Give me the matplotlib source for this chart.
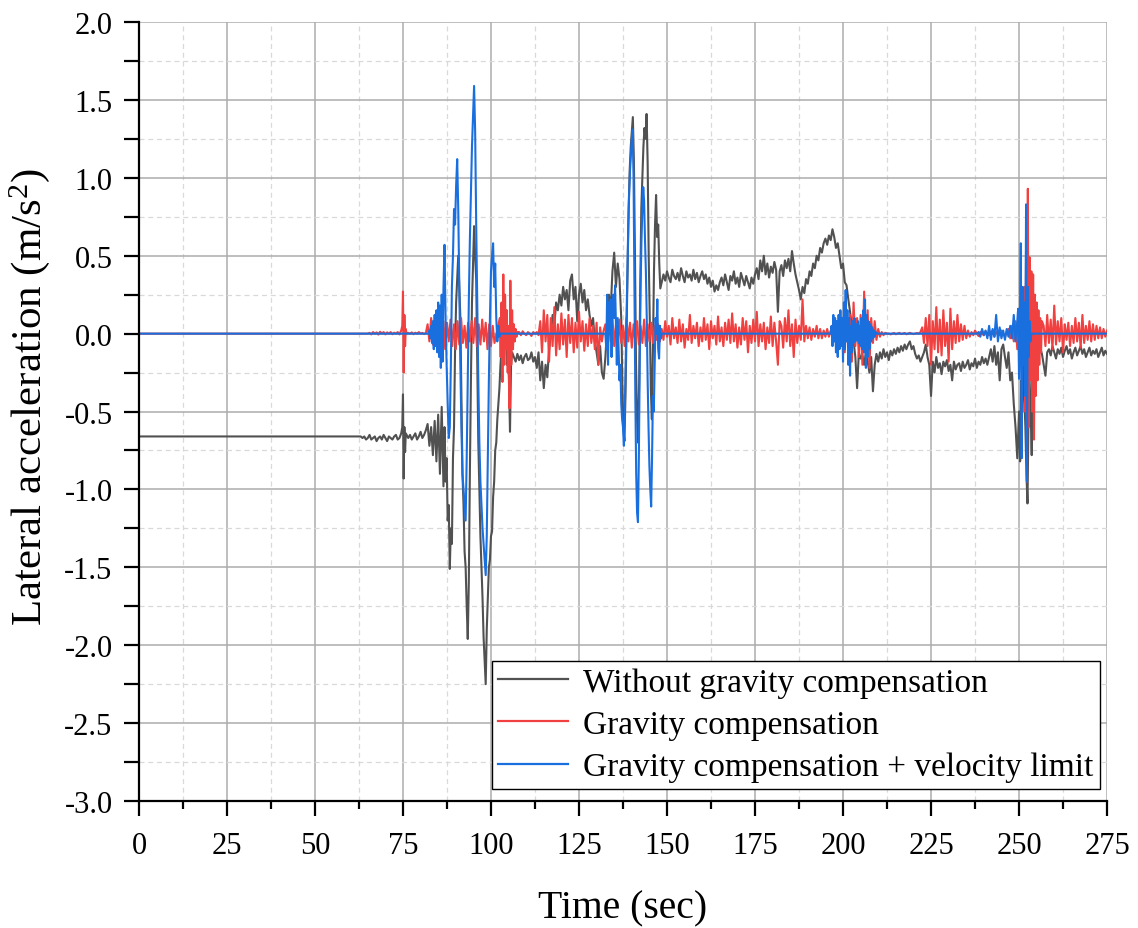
import numpy as np
import matplotlib
matplotlib.use("Agg")
import matplotlib.pyplot as plt
from matplotlib.ticker import MultipleLocator

plt.rcParams['font.family'] = ['Liberation Serif', 'DejaVu Serif']
plt.rcParams['mathtext.fontset'] = 'custom'
plt.rcParams['mathtext.rm'] = 'Liberation Serif'
plt.rcParams['mathtext.it'] = 'Liberation Serif:italic'

# ---------------- data (time in s, acceleration in m/s^2) ----------------
# each segment: (start time, time step)
gray_segments = [
    (0.0, 63.0, [-0.66, -0.66]),
    (63.5, 0.5, [-0.67, -0.66, -0.68, -0.67, -0.65, -0.68, -0.67, -0.66, -0.69, -0.67, -0.66, -0.68,
                 -0.65, -0.67, -0.69, -0.66, -0.67, -0.68, -0.66, -0.65, -0.68, -0.67, -0.64]),
    (74.8, 0.2, [-0.60, -0.39, -0.93, -0.60, -0.76, -0.64]),
    (76.5, 0.5, [-0.67, -0.65, -0.68, -0.66, -0.64, -0.68, -0.66, -0.63, -0.67, -0.65, -0.62]),
    (82.0, 0.5, [-0.58, -0.72, -0.60, -0.78, -0.56, -0.82, -0.52, -0.90, -0.47, -0.98]),
    (86.8, 0.3, [-0.60, -0.95, -0.80, -1.20, -1.10, -1.51, -1.25, -1.35, -0.80, -0.60, -0.10, 0.20,
                 0.35, 0.50, 0.30, 0.10, -0.40, -0.90, -1.10, -1.40, -1.50, -1.75, -1.96, -1.60,
                 -0.90, -0.30, 0.20, 0.45, 0.69, 0.50, 0.35, -0.20, -0.70, -1.00, -1.30, -1.50,
                 -1.70, -1.95, -2.10, -2.25, -1.90, -1.70, -1.50, -1.45, -1.30, -1.27, -1.05, -0.95,
                 -0.75, -0.70, -0.55, -0.45, -0.35, -0.20, -0.10, 0.00, -0.10, -0.05, 0.02, -0.20,
                 -0.10, -0.30, -0.63, -0.20, -0.12]),
    (106.5, 0.5, [-0.15, -0.18, -0.13, -0.17, -0.14, -0.19, -0.15, -0.13, -0.17, -0.16, -0.12, -0.18, -0.15]),
    (113.0, 0.5, [-0.22, -0.12, -0.30, -0.18, -0.35, -0.20, -0.28, -0.10]),
    (117.0, 0.5, [0.00, 0.12, 0.05, 0.20, 0.15, 0.25]),
    (120.0, 0.5, [0.18, 0.30, 0.22, 0.28, 0.15, 0.34, 0.38, 0.22, 0.30, 0.08, 0.25, 0.32, 0.20, 0.28,
                  0.15, 0.22, 0.12]),
    (128.5, 0.5, [0.05, 0.10, -0.05, -0.12, -0.20, -0.08, -0.25, -0.29, -0.15]),
    (133.0, 0.5, [0.05, 0.25, 0.15, 0.40, 0.52, 0.30, 0.45, 0.35, 0.10]),
    (137.3, 0.3, [-0.30, -0.60, -0.69, -0.40, 0.00, 0.40, 0.80, 1.05, 1.20, 1.30, 1.39, 1.10, 0.50,
                  -0.20, -0.55, -0.70, -0.30, 0.30, 0.80, 1.00, 1.20, 1.32, 1.25, 1.41, 1.10, 0.50,
                  0.10, -0.35, -0.55, -0.10, 0.40, 0.70, 0.89, 0.62, 0.70, 0.45, 0.29]),
    (148.5, 0.5, [0.33, 0.38, 0.34, 0.40, 0.36, 0.33, 0.41, 0.37, 0.35, 0.39, 0.34, 0.42, 0.37, 0.33,
                  0.40, 0.36, 0.38, 0.34, 0.41, 0.35, 0.39, 0.33, 0.37, 0.40, 0.35, 0.38, 0.32, 0.36,
                  0.30, 0.34, 0.27, 0.31, 0.28, 0.33]),
    (165.5, 0.5, [0.36, 0.31, 0.38, 0.33, 0.28, 0.37, 0.34, 0.40, 0.32, 0.36, 0.30, 0.39, 0.35, 0.31,
                  0.37, 0.33, 0.29, 0.36, 0.32, 0.38]),
    (175.5, 0.5, [0.42, 0.35, 0.47, 0.40, 0.50, 0.38, 0.45, 0.36, 0.43, 0.39, 0.46, 0.41, 0.14, 0.40,
                  0.44, 0.37, 0.47, 0.42, 0.48, 0.40, 0.53, 0.45]),
    (186.5, 0.5, [0.38, 0.33, 0.28, 0.22, 0.30, 0.26, 0.35, 0.32]),
    (190.5, 0.5, [0.40, 0.37, 0.45, 0.42, 0.50, 0.47, 0.55, 0.52, 0.58, 0.61, 0.57, 0.63, 0.60, 0.67, 0.62]),
    (198.0, 0.5, [0.55, 0.58, 0.50, 0.42, 0.45, 0.33, 0.31, 0.22, 0.14, 0.05, -0.05, -0.15, -0.35,
                  -0.12, -0.16]),
    (205.5, 0.5, [-0.14, -0.20, -0.12, -0.18, -0.25, -0.15, -0.37, -0.20, -0.13, -0.18, -0.12, -0.16,
                  -0.10, -0.15, -0.12, -0.17, -0.11, -0.14, -0.10, -0.13, -0.09, -0.12, -0.08, -0.11,
                  -0.07, -0.10]),
    (218.5, 0.5, [-0.07, -0.05, -0.10, -0.08, -0.13, -0.16, -0.14, -0.18, -0.15, -0.12, -0.07, -0.15]),
    (224.5, 0.5, [-0.20, -0.40, -0.18, -0.25, -0.15, -0.22, -0.19, -0.26, -0.18, -0.21, -0.17, -0.24,
                  -0.20, -0.30, -0.18, -0.23, -0.20, -0.19, -0.24, -0.18, -0.22, -0.20, -0.17, -0.23,
                  -0.19, -0.21, -0.16, -0.22, -0.18, -0.20, -0.15, -0.19, -0.16, -0.20]),
    (241.5, 0.5, [-0.15, -0.10, -0.18, -0.08, -0.20, -0.12, -0.30, -0.10, -0.07, -0.15, -0.22, -0.12,
                  -0.30, -0.25, -0.45, -0.60, -0.80, -0.50]),
    (250.3, 0.3, [-0.82, -0.30, -0.50, 0.00, -0.40, -0.60, -0.90, -1.09, -0.50, -0.30, -0.50, -0.78,
                  -0.30, -0.15]),
    (254.5, 0.5, [-0.12, -0.10, -0.15, -0.09, -0.13, -0.20, -0.27, -0.12, -0.10, -0.14, -0.08, -0.12,
                  -0.16, -0.10, -0.13, -0.09, -0.15, -0.11, -0.08, -0.13, -0.10, -0.16, -0.12, -0.09,
                  -0.14, -0.11, -0.08, -0.13, -0.10, -0.15, -0.12, -0.09, -0.14, -0.11, -0.13, -0.10,
                  -0.15, -0.12, -0.09, -0.14, -0.11, -0.13]),
]

red_segments = [
    (0.0, 65.0, [0.0, 0.0]),
    (65.5, 0.5, [0.005, -0.005, 0.01, 0.0, 0.008, -0.006, 0.012, 0.0, 0.01, -0.005, 0.008, 0.0, 0.01,
                 -0.004, 0.006, 0.0, 0.01, -0.005, 0.02]),
    (74.8, 0.2, [0.05, 0.27, -0.25, 0.12, -0.08, 0.03, 0.0]),
    (76.5, 0.5, [0.005, 0.0, 0.008, -0.004, 0.006, 0.0, 0.01, 0.0, 0.005, -0.003, 0.004]),
    (82.0, 0.5, [0.06, -0.05, 0.10, -0.07, 0.04]),
    (84.5, 0.5, [0.05, -0.08, 0.10, -0.06, 0.08, -0.10, 0.07, -0.05, 0.09, -0.08, 0.06, -0.10, 0.08,
                 -0.07, 0.10, -0.06, 0.05, -0.09, 0.07, -0.05, 0.08, -0.06, 0.10, -0.08, 0.06, -0.07,
                 0.09, -0.05, 0.07, -0.10, 0.06, -0.08, 0.05, -0.06]),
    (102.5, 0.25, [0.10, -0.15, 0.20, -0.31, 0.38, -0.20, 0.25, -0.10, 0.15, -0.25, 0.05, -0.48, 0.34,
                   -0.20, 0.15, -0.10, 0.06, -0.05, 0.03, -0.02, 0.01]),
    (108.0, 0.5, [0.01, -0.01, 0.015, 0.0, -0.01, 0.01, 0.0, -0.015, 0.01, 0.0, 0.01, -0.01]),
    (114.0, 0.5, [0.08, -0.12, 0.15, -0.05, 0.12, -0.18, 0.10, -0.08, 0.17, -0.14, 0.06, -0.10, 0.13,
                  -0.07, 0.09, -0.15, 0.12, -0.06, 0.10, -0.12, 0.07, -0.09, 0.14, -0.05, 0.08, -0.11,
                  0.06, -0.08, 0.10, -0.06, 0.05, -0.10, 0.07, -0.20, 0.04, -0.05, 0.02]),
    (132.5, 0.5, [0.06, -0.10, 0.08, -0.05, 0.10, -0.08, 0.06, -0.07, 0.09, -0.06, 0.05, -0.08, 0.10,
                  -0.05, 0.07, -0.09, 0.06, -0.05, 0.08, -0.07, 0.05, -0.06, 0.09, -0.08, 0.06, -0.05,
                  0.07, -0.06, 0.05, -0.04, 0.06, -0.05]),
    (148.5, 0.5, [0.03, -0.04, 0.08, -0.02, 0.05, -0.07, 0.10, -0.03, 0.04, -0.06, 0.09, -0.05, 0.06,
                  -0.09, 0.03, -0.04, 0.12, -0.06, 0.05, -0.03, 0.07, -0.08, 0.04, -0.05, 0.10, -0.04,
                  0.06, -0.10, 0.08, -0.03,
                  0.05, -0.07, 0.11, -0.05, 0.04, -0.08, 0.07, -0.04, 0.09, -0.06, 0.13, -0.05, 0.06,
                  -0.09, 0.04, -0.07, 0.10, -0.04, 0.08, -0.12, 0.05, -0.06, 0.09, -0.05, 0.14, -0.08,
                  0.06, -0.05, 0.07, -0.10,
                  0.04, -0.06, 0.11, -0.08, 0.07, -0.05, -0.20, 0.08, 0.05, -0.09, 0.10, -0.05, 0.15,
                  -0.08, 0.06, -0.15, 0.09, -0.06, 0.05, -0.04, 0.22, -0.05, 0.05, -0.03, 0.04, -0.04,
                  0.03, -0.02, 0.05, -0.03,
                  0.03, -0.03, 0.02, -0.02, 0.03, -0.02, 0.02]),
    (197.0, 0.5, [0.04, -0.03, 0.05, -0.06, 0.08, -0.05, 0.10, -0.12, 0.15, -0.10, 0.12, -0.18, 0.20,
                  -0.08, 0.10, -0.15, 0.12, -0.20, 0.27, -0.10, 0.15, -0.22, 0.10, -0.06, 0.08, -0.04,
                  0.03, -0.02, 0.01, -0.01, 0.005, 0.0, 0.0]),
    (213.5, 0.5, [-0.005, 0.0, 0.004, -0.004, 0.0, 0.005, -0.003, 0.0, 0.004, -0.004, 0.0, 0.005, 0.0,
                  -0.003, 0.0, 0.004, 0.0, 0.01]),
    (222.5, 0.5, [0.04, -0.06, 0.10, -0.08, 0.12, -0.20, 0.08, -0.10, 0.17, -0.12, 0.09, -0.14, 0.15,
                  -0.08, 0.07, -0.18, 0.16, -0.10, 0.08, -0.06, 0.12, -0.05, 0.06, -0.04, 0.05, -0.03,
                  0.02, -0.02]),
    (236.5, 0.5, [0.01, -0.01, 0.02, 0.0, -0.015, 0.01, 0.0, -0.01, 0.015, 0.0, -0.01, 0.01, 0.02,
                  -0.02, 0.01, 0.0, -0.01, 0.02, 0.0, -0.02, 0.01, 0.03, -0.03, 0.05, -0.05, 0.08,
                  -0.10]),
    (250.0, 0.25, [0.15, 0.05, -0.10, -0.20, 0.10, -0.20, 0.30, -0.50, 0.58, -0.95, 0.93, -0.60, 0.49,
                   -0.30, 0.40, -0.50, 0.38, -0.68, 0.25, -0.40, 0.20, -0.30, 0.15, -0.20, 0.10, -0.12,
                   0.08]),
    (257.0, 0.5, [0.05, -0.08, 0.12, -0.06, 0.09, -0.10, 0.18, -0.07, 0.08, -0.05, 0.10, -0.12, 0.06,
                  -0.04, 0.07, -0.08, 0.05, -0.06, 0.10, -0.05, 0.07, -0.09, 0.12, -0.06, 0.05, -0.04,
                  0.08, -0.05, 0.06, -0.04, 0.05, -0.03, 0.04, -0.03, 0.03, -0.02, 0.02]),
]

blue_segments = [
    (0.0, 82.25, [0.0, 0.0]),
    (82.5, 0.25, [0.02, -0.03, 0.05, -0.06, 0.08, -0.10, 0.12, -0.08, 0.15, -0.12, 0.20, -0.15, 0.18,
                  -0.22, 0.25, -0.18, 0.29]),
    (86.8, 0.3, [0.57, 0.10, -0.20, -0.45, -0.67, -0.60, -0.20, 0.30, 0.50, 0.80, 0.70, 0.95, 1.12,
                 0.80, 0.30, -0.20, -0.60, -0.90, -1.00, -1.10, -1.20, -0.80, -0.30, 0.20, 0.60, 0.90,
                 1.20, 1.40, 1.59, 1.30, 0.70, 0.20, -0.30, -0.70, -0.95, -1.10, -1.25, -1.35, -1.45,
                 -1.55, -1.30, -0.80, -0.30, 0.10, 0.40, 0.50, 0.58, 0.30, 0.45, 0.10, -0.05, 0.05,
                 -0.02, 0.0]),
    (103.0, 29.5, [0.0, 0.0]),
    (132.75, 0.25, [-0.10, 0.25, -0.20, 0.20, 0.00, 0.22, -0.15, 0.18, 0.25, 0.10, 0.31, 0.05, -0.20,
                    0.10, -0.10, -0.30, -0.20, -0.45, -0.55, -0.60, -0.72, -0.50, -0.20, 0.10, 0.40,
                    0.70, 0.90, 1.05, 1.15, 1.25, 1.31, 1.00, 0.30, -0.40, -0.90, -1.15, -1.21, -0.80,
                    -0.20, 0.30, 0.60, 0.80, 0.94, 0.85, 0.60, 0.40, 0.10, -0.30, -0.60, -0.85, -1.00,
                    -1.11, -0.80, -0.40, -0.50, -0.20, 0.10, 0.00, 0.22, -0.10, -0.16, 0.05, -0.03,
                    0.0]),
    (149.0, 47.5, [0.0, 0.0]),
    (196.75, 0.25, [0.05, -0.08, 0.12, -0.05, 0.10, -0.12, 0.08, -0.15, 0.12, -0.10, 0.15, -0.08, 0.10,
                    -0.18, 0.20, -0.10, 0.28, -0.05, 0.15, -0.20, 0.10, -0.27, 0.05, -0.12, 0.08,
                    -0.06, 0.10, -0.05, 0.06, -0.04, 0.08, -0.06, 0.05, -0.08, 0.10, -0.10, 0.15,
                    -0.12, 0.22, -0.22, 0.12, -0.15, 0.08, -0.10, 0.06, -0.05, 0.04, -0.03, 0.02,
                    -0.02, 0.01, 0.0]),
    (210.0, 28.0, [0.0, 0.0]),
    (238.5, 0.5, [0.01, -0.02, 0.03, -0.01, 0.02, -0.03, 0.05, -0.04, 0.03, -0.02, 0.12, -0.05, 0.04,
                  -0.03, 0.02, -0.04, 0.03, -0.02, 0.05, -0.03, 0.12, -0.05, 0.08]),
    (249.75, 0.25, [0.16, -0.29, 0.10, 0.58, -0.80, 0.30, -0.20, 0.20, -0.40, 0.83, -0.95, 0.30, -0.15,
                    0.08, -0.05, 0.0]),
    (254.0, 21.0, [0.0, 0.0]),
]

series_labels = ["Without gravity compensation", "Gravity compensation",
                 "Gravity compensation + velocity limit"]
series_colors = ["#515151", "#F14040", "#1A6FDF"]

x_ticks = [0, 25, 50, 75, 100, 125, 150, 175, 200, 225, 250, 275]
y_ticks = [-3.0, -2.5, -2.0, -1.5, -1.0, -0.5, 0.0, 0.5, 1.0, 1.5, 2.0]


def build(segments):
    t, v = [], []
    for start, step, vals in segments:
        for i, val in enumerate(vals):
            t.append(start + i * step)
            v.append(val)
    t = np.array(t)
    v = np.array(v)
    order = np.argsort(t, kind="stable")
    return t[order], v[order]


fig = plt.figure(figsize=(11.38, 9.29), dpi=100)
ax = fig.add_axes([0.1221, 0.1367, 0.8507, 0.8385])

for segs, lab, col in zip([gray_segments, red_segments, blue_segments], series_labels, series_colors):
    t, v = build(segs)
    ax.plot(t, v, color=col, lw=1.5, label=lab, solid_joinstyle="round")

ax.set_xlim(0, 275)
ax.set_ylim(-3.0, 2.0)
ax.set_xticks(x_ticks)
ax.set_yticks(y_ticks)
ax.set_xticklabels([str(x) for x in x_ticks])
ax.set_yticklabels([f"{y:.1f}" for y in y_ticks])
ax.xaxis.set_minor_locator(MultipleLocator(12.5))
ax.yaxis.set_minor_locator(MultipleLocator(0.25))

ax.set_axisbelow(True)
ax.grid(which="major", color="#acacac", lw=1.1, ls="-")
ax.grid(which="minor", color="#d9d9d9", lw=0.9, ls=(0, (4, 3)))

for s in ["top", "right"]:
    ax.spines[s].set_visible(False)
for s in ["left", "bottom"]:
    ax.spines[s].set_linewidth(1.6)
    ax.spines[s].set_color("black")

ax.tick_params(axis="both", which="major", direction="out", length=11, width=1.6,
               labelsize=22, pad=8, colors="black")
ax.tick_params(axis="x", which="major", pad=10.5)
ax.tick_params(axis="y", which="minor", direction="out", length=11, width=1.6)
ax.tick_params(axis="x", which="minor", direction="out", length=5.5, width=1.6)

ax.set_xlabel("Time (sec)", fontsize=28.5)
ax.set_ylabel("Lateral acceleration (m/s$^2$)", fontsize=31)
ax.xaxis.set_label_coords(0.5, -0.113)
ax.yaxis.set_label_coords(-0.09, 0.52)

leg = ax.legend(loc="lower right", bbox_to_anchor=(0.993, 0.0155), borderaxespad=0,
                fontsize=24, handlelength=2.1, handletextpad=0.45, labelspacing=0.35,
                borderpad=0.2, fancybox=False, framealpha=1, edgecolor="black")
leg.get_frame().set_linewidth(1.0)
for line in leg.get_lines():
    line.set_linewidth(1.6)

fig.savefig("out.png", dpi=100)
